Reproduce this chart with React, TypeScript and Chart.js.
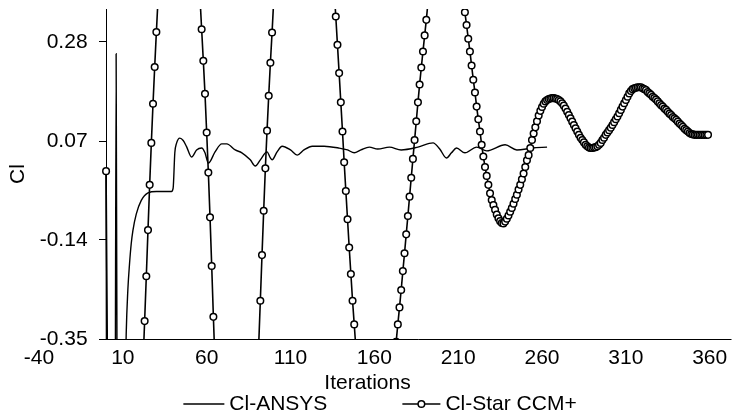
import { useEffect, useRef } from "react";
import { Chart, registerables } from "chart.js";

Chart.register(...registerables);

// ---- data ----
const seriesLabels = ["Cl-ANSYS", "Cl-Star CCM+"];
const xTitle = "Iterations";
const yTitle = "Cl";
const xTicks = [-40, 10, 60, 110, 160, 210, 260, 310, 360];
const yTicks = [-0.35, -0.14, 0.07, 0.28];
const yTickLabels = ["-0.35", "-0.14", "0.07", "0.28"];

const ansysIter = [
  0, 1, 2, 3, 4, 5, 6, 7, 8, 9, 10, 11, 12, 13, 14, 15, 16, 18, 21, 25, 30, 39, 40, 41, 42, 44, 46, 48,
  51, 54, 57, 59, 61, 65, 69, 72, 77, 81, 86, 89, 92, 96, 98, 99, 102, 105, 110, 114, 118, 123, 130,
  139, 144, 148, 152, 157, 162, 169, 176, 186, 195, 199, 203, 206, 209, 214, 221, 227, 238, 245, 254, 263,
];
const ansysCl = [
  0.0, -1.4, -0.7, -1.6, -0.9, -1.3, 0.255, -1.1, -1.4, -1.0, -0.8, -0.55, -0.34, -0.245, -0.19, -0.148,
  -0.12, -0.085, -0.056, -0.04, -0.037, -0.037, -0.03, 0.045, 0.065, 0.076, 0.071, 0.058,
  0.036, 0.051, 0.055, 0.045, 0.023, 0.047, 0.064, 0.064, 0.051, 0.045, 0.03, 0.017, 0.03, 0.047, 0.034,
  0.03, 0.047, 0.059, 0.051, 0.04, 0.051, 0.059, 0.059,
  0.055, 0.051, 0.045, 0.051, 0.057, 0.053, 0.057, 0.051, 0.057, 0.066, 0.053, 0.034, 0.045, 0.055,
  0.045, 0.057, 0.049, 0.062, 0.051, 0.055, 0.057,
];

const starIter = [
  0, 1, 10, 22, 23, 24, 25, 26, 27, 28, 29, 30, 31, 43, 56, 57, 58, 59, 60, 61, 62, 63, 64, 65, 78,
  91, 92, 93, 94, 95, 96, 97, 98, 99, 100, 118, 136, 137, 138, 139, 140, 141, 142, 143, 144, 145, 146,
  147, 148, 149, 161, 173, 174, 175, 176, 177, 178, 179, 180, 181, 182, 183, 184, 185, 186, 187, 188,
  189, 190, 191, 192, 203, 213,
  214, 215, 216, 217, 218, 219, 220, 221, 222, 223, 224, 225, 226, 227, 228, 229, 230, 231, 232, 233,
  234, 235, 236, 237, 238, 239, 240, 241, 242, 243, 244, 245, 246, 247, 248, 249, 250, 251, 252, 253,
  254, 255, 256, 257, 258, 259, 260, 261, 262, 263, 264, 265, 266, 267, 268, 269, 270, 271, 272, 273,
  274, 275, 276, 277, 278, 279, 280, 281, 282, 283, 284, 285, 286, 287, 288, 289, 290, 291, 292, 293,
  294, 295, 296, 297, 298, 299, 300, 301, 302, 303, 304, 305, 306, 307, 308, 309, 310, 311, 312, 313,
  314, 315, 316, 317, 318, 319, 320, 321, 322, 323, 324, 325, 326, 327, 328, 329, 330, 331, 332, 333,
  334, 335, 336, 337, 338, 339, 340, 341, 342, 343, 344, 345, 346, 347, 348, 349, 350, 351, 352, 353,
  354, 355, 356, 357, 358, 359,
];
const starCl = [
  0.006, -0.5, -1.1, -0.405, -0.312, -0.217, -0.119, -0.023, 0.066, 0.149, 0.227, 0.301, 0.372, 1.0,
  0.375, 0.307, 0.24, 0.17, 0.088, 0.003, -0.092, -0.195, -0.303, -0.405, -0.9,
  -0.365, -0.269, -0.172, -0.078, 0.012, 0.092, 0.166, 0.236, 0.3, 0.37, 0.85, 0.392, 0.334, 0.274,
  0.214, 0.152, 0.09, 0.025, -0.036, -0.096, -0.156, -0.212,
  -0.269, -0.319, -0.37, -0.6, -0.356, -0.319, -0.283, -0.246, -0.206, -0.168, -0.128, -0.089, -0.048,
  -0.008, 0.032, 0.072, 0.112, 0.152, 0.19, 0.226,
  0.26, 0.294, 0.327, 0.365, 0.48, 0.372,
  0.343, 0.316, 0.287, 0.26, 0.23, 0.2, 0.173, 0.143, 0.116, 0.09, 0.062, 0.037, 0.015, -0.004, -0.023,
  -0.041, -0.055, -0.066, -0.076, -0.086,
  -0.094, -0.1, -0.104, -0.105, -0.101, -0.095, -0.088, -0.08, -0.072, -0.063, -0.053, -0.044, -0.033,
  -0.023, -0.011, 0.001, 0.015, 0.029, 0.04, 0.055,
  0.072, 0.086, 0.099, 0.112, 0.124, 0.134, 0.142, 0.149, 0.154, 0.157, 0.159, 0.16, 0.161, 0.161, 0.16,
  0.159, 0.157, 0.154, 0.15, 0.145,
  0.139, 0.132, 0.125, 0.118, 0.111, 0.104, 0.097, 0.09, 0.083, 0.077, 0.072, 0.067, 0.062, 0.059, 0.056,
  0.055, 0.055, 0.056, 0.057, 0.059,
  0.062, 0.066, 0.072, 0.077, 0.083, 0.088, 0.093, 0.098, 0.104, 0.11, 0.116, 0.122, 0.129, 0.136, 0.143,
  0.15, 0.157, 0.164, 0.171, 0.176,
  0.18, 0.182, 0.183, 0.184, 0.184, 0.184, 0.182, 0.18, 0.178, 0.174, 0.171, 0.168, 0.164, 0.161, 0.158,
  0.154, 0.15, 0.146, 0.143, 0.139,
  0.136, 0.132, 0.128, 0.125, 0.121, 0.118, 0.115, 0.111, 0.107, 0.104, 0.1, 0.096, 0.093, 0.09, 0.087,
  0.085, 0.084, 0.083, 0.083, 0.083,
  0.083, 0.083, 0.083, 0.083, 0.083, 0.083,
];

const FONT = "'Liberation Sans', Arial, Helvetica, sans-serif";
const FS = 21;

const zeroPad = (s: any) => {
  s.paddingTop = 0;
  s.paddingBottom = 0;
  s.paddingLeft = 0;
  s.paddingRight = 0;
};

// horizontal axis line starting where the vertical axis crosses (x = 0)
const baselinePlugin = {
  id: "baselineFromZero",
  afterDraw(chart: any) {
    const { ctx, chartArea, scales } = chart;
    const x0 = scales.x.getPixelForValue(0);
    const y = Math.round(chartArea.bottom - 0.5) + 0.5;
    ctx.save();
    ctx.strokeStyle = "#000";
    ctx.lineWidth = 1;
    ctx.beginPath();
    ctx.moveTo(x0, y);
    ctx.lineTo(chartArea.right, y);
    ctx.stroke();
    ctx.restore();
  },
};

// legend with line / line+marker samples
const legendPlugin = {
  id: "sampleLegend",
  afterDraw(chart: any) {
    const { ctx } = chart;
    const ds = chart.data.datasets;
    ctx.save();
    ctx.font = `${FS}px ${FONT}`;
    ctx.textBaseline = "middle";
    ctx.fillStyle = "#000";
    const y = chart.height - 15;
    const sampleW = [41, 38];
    const textGap = 5;
    const itemGap = 75;
    const widths = ds.map((d: any, i: number) => sampleW[i] + textGap + ctx.measureText(d.label).width);
    const total = widths[0] + itemGap + widths[1];
    let x = 380 - total / 2;
    ds.forEach((d: any, i: number) => {
      ctx.strokeStyle = "#000";
      ctx.lineWidth = d.borderWidth;
      ctx.beginPath();
      ctx.moveTo(x, y);
      ctx.lineTo(x + sampleW[i], y);
      ctx.stroke();
      if (d.pointRadius > 0) {
        ctx.beginPath();
        ctx.arc(x + sampleW[i] / 2, y, d.pointRadius, 0, Math.PI * 2);
        ctx.fillStyle = "#fff";
        ctx.fill();
        ctx.lineWidth = d.pointBorderWidth;
        ctx.stroke();
        ctx.fillStyle = "#000";
      }
      ctx.fillText(d.label, x + sampleW[i] + textGap, y);
      x += widths[i] + itemGap;
    });
    ctx.restore();
  },
};

export default function App() {
  const ref = useRef<HTMLCanvasElement>(null);
  useEffect(() => {
    document.body.style.margin = "0";
    Chart.defaults.font.family = FONT;
    Chart.defaults.font.size = FS;
    Chart.defaults.color = "#000";
    const chart = new Chart(ref.current as HTMLCanvasElement, {
      type: "line",
      data: {
        datasets: [
          {
            label: seriesLabels[0],
            data: ansysIter.map((x, i) => ({ x, y: ansysCl[i] })),
            borderColor: "#000",
            borderWidth: 1.4,
            pointRadius: 0,
            cubicInterpolationMode: "monotone",
            fill: false,
            order: 1,
            yAxisID: "y",
          },
          {
            label: seriesLabels[1],
            data: starIter.map((x, i) => ({ x, y: starCl[i] })),
            borderColor: "#000",
            borderWidth: 1.6,
            pointRadius: 3.3,
            pointBorderWidth: 1.5,
            pointBackgroundColor: "#fff",
            pointBorderColor: "#000",
            tension: 0,
            fill: false,
            order: 0,
            yAxisID: "y",
          },
        ],
      },
      options: {
        animation: false,
        responsive: true,
        maintainAspectRatio: false,
        layout: { padding: { top: 9, left: 0, right: 2, bottom: 22.8 } },
        plugins: {
          legend: { display: false },
          tooltip: { enabled: false },
          title: {
            display: true,
            text: xTitle,
            position: "bottom",
            padding: { top: -7.2, bottom: 0 },
            font: { size: FS, weight: "normal" },
            color: "#000",
          },
        },
        scales: {
          x: {
            type: "linear",
            min: -40,
            max: 373,
            afterBuildTicks: (s: any) => {
              s.ticks = xTicks.map((v) => ({ value: v }));
            },
            afterFit: zeroPad,
            ticks: { autoSkip: false, maxRotation: 0, padding: 7, color: "#000", font: { size: FS } },
            grid: { display: false, drawTicks: false },
            border: { display: false },
          },
          // value axis crossing at iteration 0: line + tick marks
          y: {
            type: "linear",
            min: -0.35,
            max: 0.35,
            position: { x: 0 } as any,
            afterBuildTicks: (s: any) => {
              s.ticks = yTicks.map((v) => ({ value: v }));
            },
            afterFit: zeroPad,
            ticks: { display: false },
            grid: { display: true, drawOnChartArea: false, drawTicks: true, tickLength: 7, color: "#000", lineWidth: 1 },
            border: { display: true, color: "#000", width: 1 },
          },
          // labels + title of the value axis
          yl: {
            type: "linear",
            position: "left",
            min: -0.35,
            max: 0.35,
            afterBuildTicks: (s: any) => {
              s.ticks = yTicks.map((v) => ({ value: v }));
            },
            afterFit: zeroPad,
            ticks: {
              mirror: true,
              crossAlign: "far",
              padding: 0.7,
              color: "#000",
              font: { size: FS },
              callback: (_v: any, i: number) => yTickLabels[i],
            },
            grid: { display: false, drawTicks: false },
            border: { display: false },
            title: { display: true, text: yTitle, padding: { top: 5.9, bottom: 6.5 }, color: "#000", font: { size: FS } },
          },
        },
      } as any,
      plugins: [baselinePlugin, legendPlugin],
    });
    return () => chart.destroy();
  }, []);
  return (
    <div style={{ width: 737, height: 419, position: "relative" }}>
      <canvas ref={ref} />
    </div>
  );
}
